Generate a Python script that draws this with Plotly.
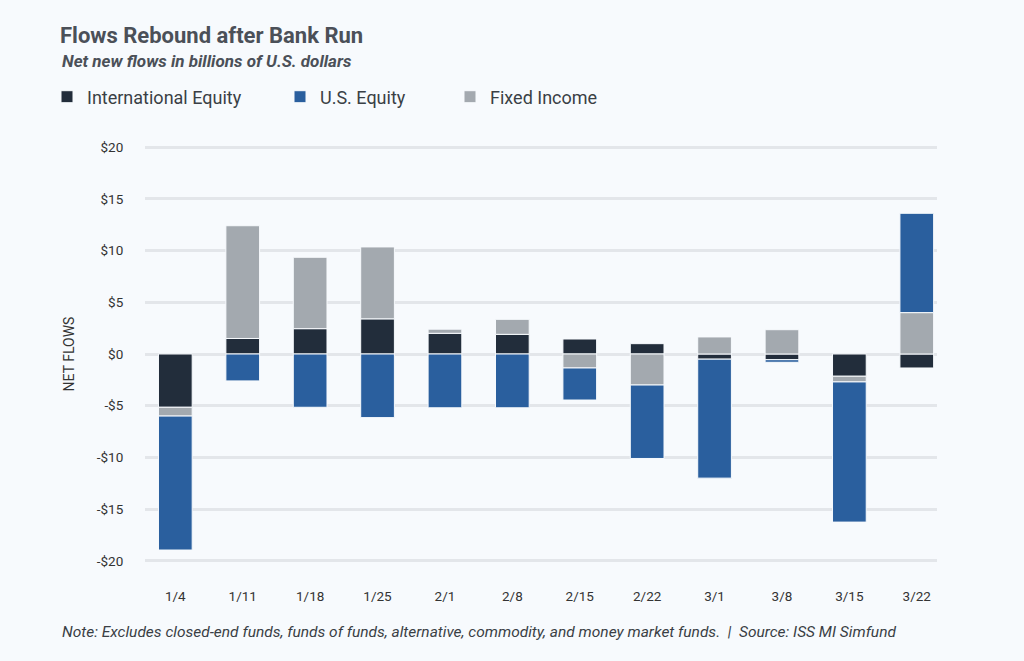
import plotly.graph_objects as go

weeks = ["1/4", "1/11", "1/18", "1/25", "2/1", "2/8", "2/15", "2/22", "3/1", "3/8", "3/15", "3/22"]
intl_equity = [-5.15, 1.5, 2.45, 3.4, 2.0, 1.9, 1.45, 1.0, -0.5, -0.55, -2.15, -1.35]
fixed_income = [-0.85, 10.9, 6.9, 6.95, 0.4, 1.45, -1.35, -3.0, 1.65, 2.35, -0.55, 4.0]
us_equity = [-12.95, -2.6, -5.15, -6.15, -5.2, -5.2, -3.1, -7.1, -11.5, -0.25, -13.55, 9.6]
tick_vals = [20, 15, 10, 5, 0, -5, -10, -15, -20]
tick_text = ["$20", "$15", "$10", "$5", "$0", "-$5", "-$10", "-$15", "-$20"]

BG = "#f7fafd"
FONT = "Roboto"
C_INTL = "#222d3b"
C_US = "#2a5f9e"
C_FI = "#a3a9af"

fig = go.Figure()
fig.add_trace(go.Bar(x=weeks, y=intl_equity, name="International Equity",
                     marker=dict(color=C_INTL, line=dict(color=BG, width=1)),
                     legend="legend"))
fig.add_trace(go.Bar(x=weeks, y=fixed_income, name="Fixed Income",
                     marker=dict(color=C_FI, line=dict(color=BG, width=1)),
                     legend="legend3"))
fig.add_trace(go.Bar(x=weeks, y=us_equity, name="U.S. Equity",
                     marker=dict(color=C_US, line=dict(color=BG, width=1)),
                     legend="legend2"))

leg_common = dict(orientation="h", xref="container", yref="container",
                  yanchor="middle", xanchor="left", bgcolor="rgba(0,0,0,0)",
                  font=dict(family=FONT, size=18, color="#3a3f45"))
ly = 1 - 97 / 661

# plot area: x 145..937, y 144..564 for range [-20.3, 20.3]
PL, PR, PT, PB = 145, 937, 144, 564


def px_x(px):
    return (px - PL) / (PR - PL)


def px_y(py):
    return (PB - py) / (PB - PT)


fig.update_layout(
    barmode="relative",
    bargap=0.5,
    width=1024, height=661,
    showlegend=True,
    paper_bgcolor=BG, plot_bgcolor=BG,
    margin=dict(l=PL, r=1024 - PR, t=PT, b=661 - PB, pad=0),
    font=dict(family=FONT, color="#333333"),
    title=dict(text="<b>Flows Rebound after Bank Run</b>", xref="container", yref="container",
               x=60 / 1024, y=1 - 35 / 661, xanchor="left", yanchor="middle",
               font=dict(family=FONT, size=22, color="#4b5058")),
    legend=dict(x=47 / 1024, y=ly, **leg_common),
    legend2=dict(x=280 / 1024, y=ly, **leg_common),
    legend3=dict(x=450 / 1024, y=ly, **leg_common),
    xaxis=dict(range=[-0.45, 11.3], showgrid=False, ticks="outside", ticklen=20,
               tickcolor="rgba(0,0,0,0)",
               tickfont=dict(family=FONT, size=13.5, color="#333333"), showline=False),
    yaxis=dict(range=[-20.3, 20.3], tickvals=tick_vals, ticktext=tick_text,
               showgrid=True, gridcolor="#e3e6ea", gridwidth=3, zeroline=False,
               ticks="outside", ticklen=18, tickcolor="rgba(0,0,0,0)",
               tickfont=dict(family=FONT, size=13.5, color="#333333"),
               title=dict(text="NET FLOWS", standoff=18,
                          font=dict(family=FONT, size=14, color="#333333"))),
    annotations=[
        dict(text="<b><i>Net new flows in billions of U.S. dollars</i></b>",
             xref="paper", yref="paper", x=px_x(60), y=px_y(61),
             xanchor="left", yanchor="middle", showarrow=False,
             font=dict(family=FONT, size=17, color="#4b5058")),
        dict(text="<i>Note: Excludes closed-end funds, funds of funds, alternative, commodity, and money market funds.  |  Source: ISS MI Simfund</i>",
             xref="paper", yref="paper", x=px_x(60), y=px_y(632),
             xanchor="left", yanchor="middle", showarrow=False,
             font=dict(family=FONT, size=15.5, color="#3a3f45")),
    ],
)

fig.write_html("out.html", config={"displayModeBar": False},
               post_script="document.body.style.margin='0';document.body.style.background='%s';" % BG)
